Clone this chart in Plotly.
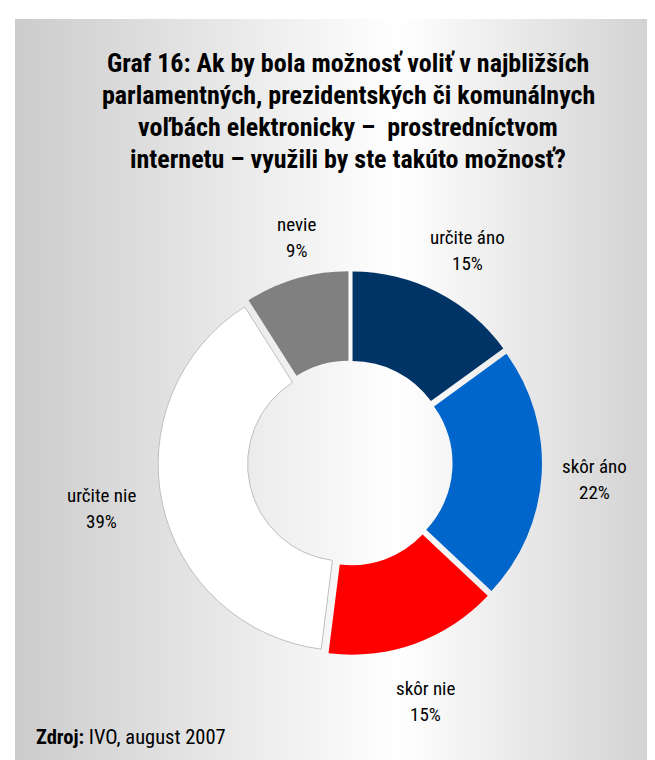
import plotly.graph_objects as go

categories = ["určite áno", "skôr áno", "skôr nie", "určite nie", "nevie"]
values = [15, 22, 15, 39, 9]
colors = ["#003366", "#0066CC", "#FF0000", "#FFFFFF", "#808080"]
title_lines = ["Graf 16: Ak by bola možnosť voliť v najbližších",
               "parlamentných, prezidentských či komunálnych",
               "voľbách elektronicky –  prostredníctvom",
               "internetu – využili by ste takúto možnosť?"]
source_bold = "Zdroj:"
source_rest = " IVO, august 2007"

# label placement (pixels, centre of the name line) - styling only
label_pos = [(460, 230), (586, 458), (417, 680), (93, 487), (288, 216)]
label_gap = 26
title_y = [55, 87, 119, 151]

W, H = 655, 760
FONT = "Liberation Sans Narrow, Arial Narrow, Roboto Condensed, DejaVu Sans Condensed, sans-serif"

fig = go.Figure()

# gradient background panel
fig.add_trace(go.Scatter(
    x=[7, 655, 655, 7, 7], y=[11, 11, 757, 757, 11],
    mode="lines", line=dict(width=0), fill="toself",
    fillgradient=dict(type="horizontal",
                      colorscale=[[0, "#cccccc"], [0.59, "#ffffff"], [1, "#d0d0d0"]]),
    hoverinfo="skip", showlegend=False,
))

cx, cy, R = 342, 455, 192
fig.add_trace(go.Pie(
    labels=categories, values=values, sort=False, direction="clockwise", rotation=0,
    hole=0.52, pull=0.03,
    marker=dict(colors=colors,
                line=dict(color=["rgba(0,0,0,0)"] * 3 + ["#bfbfbf", "rgba(0,0,0,0)"],
                          width=[0, 0, 0, 1, 0])),
    textinfo="none",
    showlegend=False, hoverinfo="label+percent",
    domain=dict(x=[(cx - R) / W, (cx + R) / W], y=[(H - cy - R) / H, (H - cy + R) / H]),
))

total = sum(values)
annotations = []
for i, t in enumerate(title_lines):
    annotations.append(dict(text="<b>" + t + "</b>", x=340 / W, y=1 - title_y[i] / H,
                            xref="paper", yref="paper", xanchor="center", yanchor="middle",
                            showarrow=False, font=dict(family=FONT, size=26, color="#000000")))
for c, v, (lx, ly) in zip(categories, values, label_pos):
    for k, line in enumerate([c, f"{round(100 * v / total)}%"]):
        annotations.append(dict(text=line, x=lx / W, y=1 - (ly + k * label_gap) / H,
                                xref="paper", yref="paper", xanchor="center", yanchor="middle",
                                showarrow=False, align="center",
                                font=dict(family=FONT, size=19, color="#000000")))
annotations.append(dict(text="<b>" + source_bold + "</b>" + source_rest, x=26 / W, y=1 - 729 / H,
                        xref="paper", yref="paper",
                        xanchor="left", yanchor="middle", showarrow=False, align="left",
                        font=dict(family=FONT, size=20.5, color="#000000")))

fig.update_layout(
    width=W, height=H, margin=dict(l=0, r=0, t=0, b=0),
    paper_bgcolor="#ffffff", plot_bgcolor="rgba(0,0,0,0)",
    xaxis=dict(range=[0, W], visible=False, fixedrange=True),
    yaxis=dict(range=[H, 0], visible=False, fixedrange=True),
    annotations=annotations,
)

fig.write_html("out.html")
